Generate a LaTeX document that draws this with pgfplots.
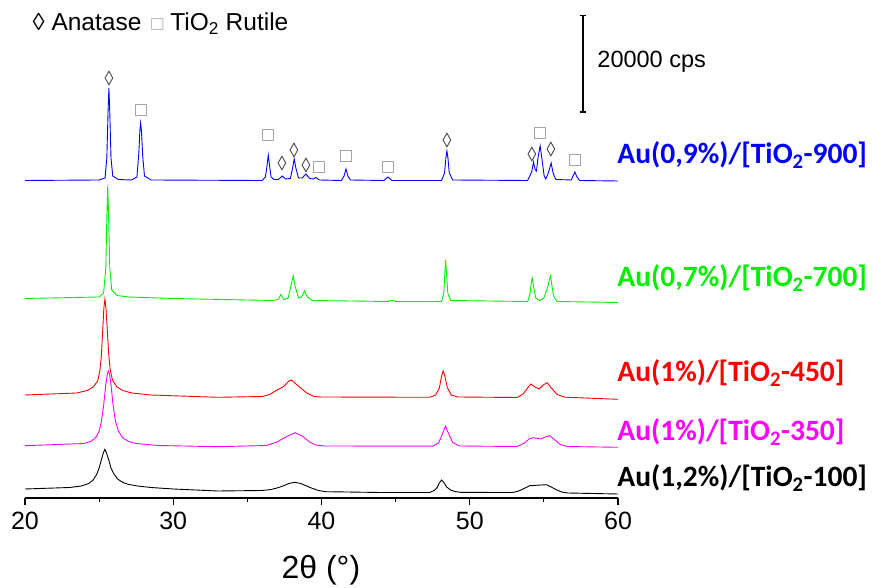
\documentclass[border=0pt]{standalone}
\usepackage{pgfplots}
\pgfplotsset{compat=1.18}
\usepackage{fontspec}
\setmainfont{Liberation Sans}
\newfontfamily\calfont{Carlito}
\usetikzlibrary{arrows.meta}
\definecolor{dgray}{RGB}{70,70,70}
\definecolor{lgray}{RGB}{165,165,165}
\definecolor{mygreen}{RGB}{0,240,0}
\definecolor{myblue}{RGB}{0,0,255}
\definecolor{myred}{RGB}{255,0,0}
\definecolor{mymag}{RGB}{255,0,255}
\newcommand{\lab}{\calfont\bfseries\fontsize{29.5}{34}\selectfont}
\begin{document}
\begin{tikzpicture}
\begin{axis}[
  name=ax,
  scale only axis, width=593pt, height=498pt,
  xmin=20, xmax=60, ymin=0, ymax=498,
  axis x line=bottom, axis y line=none,
  x axis line style={-, line width=1.2pt},
  xtick={20,30,40,50,60}, minor xtick={25,35,45,55},
  tick align=outside, major tick length=7pt, minor tick length=4pt,
  every tick/.style={black, line width=1.2pt},
  xticklabel style={font=\fontsize{25}{30}\selectfont, inner sep=0pt, anchor=north, yshift=-7pt},
  /pgf/number format/assume math mode=true,
  clip=false,
]
% Au(0,9%)/[TiO2-900]
\addplot[myblue, line width=0.9pt] coordinates {
(20.0,317.5) (25.0,318) (25.4,320) (25.52,340) (25.60,385) (25.66,410) (25.72,385) (25.80,340) (25.92,322) (26.3,318.5)
(27.2,318) (27.55,321) (27.68,345) (27.75,368) (27.80,375) (27.86,366) (27.94,342) (28.06,322) (28.5,318)
(36.0,317.5) (36.22,321) (36.32,332) (36.41,343) (36.50,332) (36.60,321) (36.8,318.5) (37.1,318.5) (37.35,322) (37.58,319)
(37.9,319.5) (38.05,330) (38.16,339) (38.27,330) (38.45,320) (38.7,320) (38.95,324) (39.2,319.5) (39.45,319) (39.62,320.5) (39.85,318)
(41.35,317.5) (41.52,322) (41.65,329) (41.78,322) (41.95,318) (44.2,317.5) (44.48,321) (44.75,317.5)
(48.1,317.5) (48.3,325) (48.39,340) (48.46,347) (48.53,340) (48.62,325) (48.85,318)
(53.9,317.5) (54.18,326) (54.30,336) (54.42,328) (54.50,327) (54.62,342) (54.75,352) (54.88,338) (55.02,322) (55.13,319)
(55.30,325) (55.49,335) (55.62,325) (55.80,318.5) (56.85,318) (57.0,323) (57.09,326) (57.2,322) (57.4,317.5) (60.0,317)
};
% Au(0,7%)/[TiO2-700]
\addplot[mygreen, line width=0.9pt] coordinates {
(20.0,199.5) (25.0,201) (25.3,205) (25.45,230) (25.52,280) (25.58,312) (25.64,280) (25.72,230) (25.85,208) (26.2,202.5)
(27.0,201) (30,199.5) (35,198) (36.8,197.5) (37.1,199) (37.26,203.5) (37.45,198.5) (37.75,200) (37.95,213) (38.09,222)
(38.22,212) (38.45,200) (38.65,201) (38.85,207) (39.05,201) (39.4,197.5) (44.5,196.5) (44.75,198) (45.0,196.5)
(48.1,196.5) (48.25,205) (48.32,225) (48.37,238) (48.43,225) (48.52,205) (48.7,197.5)
(53.9,196.5) (54.05,203) (54.14,214) (54.21,220) (54.30,212) (54.45,200) (54.70,197.5) (55.0,200) (55.28,212) (55.38,219)
(55.45,222) (55.53,214) (55.65,202) (55.9,196.5) (60,195.5)
};
% Au(1%)/[TiO2-450]
\addplot[myred, line width=0.9pt] coordinates {
(20.0,103) (23.5,105) (24.2,107.5) (24.6,111) (24.9,117) (25.05,127) (25.15,142) (25.25,170) (25.32,190) (25.39,199)
(25.46,190) (25.55,168) (25.65,143) (25.75,128) (25.9,118) (26.2,111) (26.6,107.5) (27.2,105) (28.5,103) (33.0,100.7)
(36.0,101.5) (36.5,103.5) (37.0,108) (37.4,111) (37.8,117) (37.98,118)
(38.2,115) (38.6,110) (39.0,105) (39.5,101.5) (40,101) (47.3,100.7) (47.7,103) (47.95,110) (48.10,122) (48.21,127)
(48.32,122) (48.48,111) (48.75,103) (49.2,101) (53.2,100.5) (53.6,104) (53.9,110) (54.12,114) (54.45,110.5) (54.68,109)
(54.95,113) (55.22,115.3) (55.5,110) (55.9,103.5) (56.4,100.8) (60,98.7)
};
% Au(1%)/[TiO2-350]
\addplot[mymag, line width=0.9pt] coordinates {
(20.0,52.3) (24.0,54.5) (24.5,57) (24.8,61) (25.0,67) (25.15,76) (25.3,92) (25.45,113) (25.55,124) (25.62,127)
(25.70,124) (25.8,113) (25.95,92) (26.1,77) (26.3,67) (26.6,60) (27.0,56.5) (27.5,54.5)
(29,52.5) (33,51.3) (36.3,52.5) (37.0,56) (37.6,61) (38.21,65.3) (38.7,62) (39.2,56) (39.6,53) (40.2,52)
(47.5,51.8) (47.9,55) (48.15,64) (48.37,72) (48.58,64) (48.85,55.5) (49.3,52) (53.2,51.5) (53.7,55) (54.0,59) (54.28,60.3)
(54.77,59) (55.10,61) (55.40,62.3) (55.75,58) (56.1,53.5) (56.6,51.5) (60,50.7)
};
% Au(1,2%)/[TiO2-100]
\addplot[black, line width=0.9pt] coordinates {
(20.0,9) (23.0,10.5) (23.8,12) (24.3,14.5) (24.6,18) (24.85,24) (25.0,30) (25.15,38) (25.28,45) (25.39,48.7) (25.5,45)
(25.65,38) (25.8,30) (26.0,24) (26.25,19) (26.6,15.5) (27.0,13.5) (27.6,12) (28.5,10.5) (30,9) (33,7)
(36.0,7.5) (36.6,8.5) (37.0,10) (37.4,12) (37.8,14.5) (38.21,15.7) (38.6,14.5) (39.0,12) (39.4,9.5) (39.8,7.5) (40.3,6.3)
(44,5.5) (47.3,5.5) (47.6,7.5) (47.8,10.5) (47.95,15) (48.10,18) (48.25,15.5) (48.45,11) (48.7,8) (49.0,6.5) (49.4,5.6)
(52.9,5.5) (53.3,7) (53.7,9.8) (54.05,12.3) (54.6,12.8) (55.18,13.3) (55.5,11) (55.8,8.5) (56.2,6) (56.6,5) (60,4)
};
% phase markers: anatase (diamond), rutile (square)
\addplot[only marks, mark=diamond, mark size=6.8pt, mark options={xscale=0.75, draw=dgray, fill=white, line width=0.9pt}] coordinates {
(25.66,420) (37.33,335) (38.14,348) (38.95,333) (48.46,358) (54.19,344) (55.47,349)
};
\addplot[only marks, mark=square, mark size=5.2pt, mark options={draw=lgray, fill=white, line width=1pt}] coordinates {
(27.82,388) (36.39,363) (39.82,331) (41.65,342) (44.48,331) (54.73,365) (57.09,338)
};
% scale bar
\draw[line width=1.5pt, {Bar[width=6pt]}-{Bar[width=6pt]}] (axis cs:57.63,385) -- (axis cs:57.63,483);
\node[anchor=west, inner sep=0pt, font=\fontsize{23.5}{28}\selectfont] at (axis cs:58.6,436) {20000 cps};
% legend
\node[anchor=base west, inner sep=0pt, font=\fontsize{24.5}{29}\selectfont] at (axis cs:20.5,467)
  {{\color{black}◊} Anatase\hspace{10pt}{\color{lgray}\fontsize{20}{24}\selectfont□} TiO\textsubscript{2} Rutile};
% series labels
\node[anchor=west, inner sep=0pt, myblue] at (axis cs:59.95,343) {\lab Au(0,9\%)/[TiO\textsubscript{2}-900]};
\node[anchor=west, inner sep=0pt, mygreen] at (axis cs:59.95,220) {\lab Au(0,7\%)/[TiO\textsubscript{2}-700]};
\node[anchor=west, inner sep=0pt, myred] at (axis cs:59.95,125) {\lab Au(1\%)/[TiO\textsubscript{2}-450]};
\node[anchor=west, inner sep=0pt, mymag] at (axis cs:59.95,66) {\lab Au(1\%)/[TiO\textsubscript{2}-350]};
\node[anchor=west, inner sep=0pt, black] at (axis cs:59.95,20) {\lab Au(1,2\%)/[TiO\textsubscript{2}-100]};
% x label
\node[font=\fontsize{32}{38}\selectfont] at (axis cs:39.96,-72) {2θ (°)};
\end{axis}
\pgfresetboundingbox
\path[use as bounding box] (ax.south west) ++(-25pt,-90pt) rectangle ++(873pt,588pt);
\end{tikzpicture}
\end{document}
